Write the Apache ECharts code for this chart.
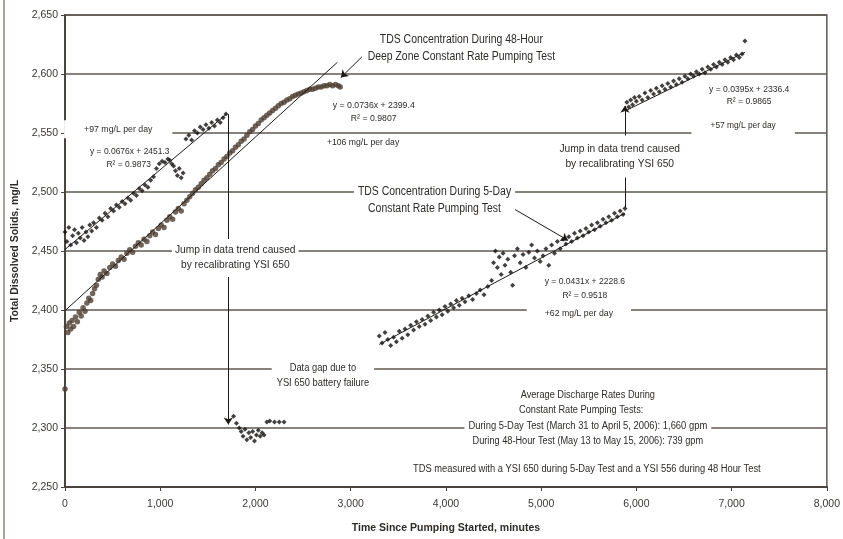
<!DOCTYPE html>
<html>
<head>
<meta charset="utf-8">
<script src="https://cdn.jsdelivr.net/npm/echarts@6/dist/echarts.min.js"></script>
<style>
  html, body { margin: 0; padding: 0; background: #fff; }
  #chart { width: 843px; height: 539px; }
</style>
</head>
<body>
<div id="chart"></div>
<script>
// ---- Readings: [minutes since pumping started, TDS mg/L] ----

// 5-day test (YSI 650), before the first recalibration
const fiveDayEarly = [
  [0,2466],[20,2458],[40,2470],[60,2455],[80,2463],[100,2468],[120,2457],[140,2465],[160,2461],[180,2470],
  [200,2459],[220,2466],[240,2462],[260,2472],[280,2467],[300,2474],[330,2470],[360,2478],[390,2476],[420,2482],
  [450,2479],[480,2486],[510,2484],[540,2489],[570,2487],[600,2492],[630,2490],[660,2495],[690,2493],[720,2499],
  [750,2497],[780,2503],[810,2501],[840,2506],[870,2504],[900,2510],[930,2513],[960,2520],[990,2524],[1020,2526],
  [1050,2525],[1080,2528],[1100,2527],[1120,2524],[1140,2522],[1160,2518],[1180,2514],[1200,2520],[1220,2512],[1240,2516],
  [1270,2545],[1300,2548],[1330,2544],[1360,2552],[1390,2550],[1420,2555],[1450,2553],[1480,2557],[1510,2554],[1540,2559],
  [1570,2556],[1600,2561],[1630,2559],[1660,2563],[1690,2566]
];

// 5-day test after recalibration, up to the battery failure
const fiveDayLow = [
  [1770,2310],[1800,2304],[1830,2300],[1850,2297],[1870,2293],[1890,2299],[1910,2290],[1930,2296],[1950,2292],[1970,2297],
  [1990,2289],[2010,2294],[2030,2298],[2050,2293],[2070,2296],[2090,2294],[2120,2305],[2150,2306],[2200,2305],[2250,2305],[2300,2305]
];

// 5-day test after the data gap
const fiveDayMid = [
  [3300,2378],[3330,2372],[3360,2381],[3390,2375],[3420,2370],[3450,2377],[3480,2373],[3510,2382],[3540,2376],[3570,2384],
  [3600,2379],[3630,2387],[3660,2383],[3690,2390],[3720,2386],[3750,2392],[3780,2388],[3810,2395],[3840,2391],[3870,2398],
  [3900,2394],[3930,2400],[3960,2396],[3990,2403],[4020,2399],[4050,2405],[4080,2402],[4110,2408],[4140,2404],[4170,2410],
  [4200,2407],[4240,2412],[4280,2409],[4320,2414],[4360,2417],[4400,2413],[4440,2420],[4480,2425],[4500,2440],[4520,2450],
  [4540,2436],[4560,2445],[4580,2430],[4600,2448],[4620,2438],[4650,2443],[4680,2432],[4700,2421],[4720,2446],[4750,2452],
  [4780,2440],[4810,2447],[4840,2436],[4870,2449],[4900,2455],[4930,2444],[4960,2450],[4990,2441],[5020,2446],[5050,2452],
  [5080,2438],[5110,2455],[5140,2448],[5170,2458],[5200,2452],[5230,2460],[5260,2456],[5290,2462],[5320,2458],[5350,2465],
  [5380,2461],[5410,2467],[5440,2463],[5470,2469],[5500,2466],[5530,2472],[5560,2468],[5590,2474],[5620,2471],[5650,2477],
  [5680,2474],[5710,2479],[5740,2476],[5770,2482],[5800,2479],[5830,2484],[5860,2481],[5880,2486]
];

// 5-day test after the second recalibration
const fiveDayLate = [
  [5900,2576],[5920,2572],[5940,2578],[5960,2574],[5980,2580],[6000,2577],[6030,2581],[6060,2578],[6090,2584],[6120,2580],
  [6150,2586],[6180,2583],[6210,2588],[6240,2585],[6270,2590],[6300,2587],[6330,2592],[6360,2589],[6390,2594],[6420,2591],
  [6450,2596],[6480,2593],[6510,2598],[6540,2596],[6570,2600],[6600,2598],[6630,2602],[6660,2600],[6690,2604],[6720,2601],
  [6750,2606],[6780,2604],[6810,2608],[6840,2606],[6870,2610],[6900,2608],[6930,2612],[6960,2610],[6990,2614],[7020,2612],
  [7050,2616],[7080,2614],[7110,2617],[7140,2628]
];

// 48-hour deep zone test (YSI 556)
const fortyEightHour = [
  [0,2333],[15,2386],[30,2381],[45,2389],[60,2384],[75,2391],[90,2386],[110,2394],[130,2390],[150,2398],
  [170,2395],[190,2402],[210,2399],[230,2406],[250,2410],[270,2408],[290,2414],[310,2418],[330,2421],[350,2426],
  [370,2430],[390,2428],[410,2433],[440,2431],[470,2436],[500,2439],[530,2437],[560,2442],[590,2445],[620,2443],
  [650,2448],[680,2451],[710,2449],[740,2454],[770,2457],[800,2455],[830,2460],[860,2458],[890,2463],[920,2466],
  [950,2464],[980,2469],[1010,2472],[1040,2470],[1070,2476],[1100,2479],[1130,2477],[1160,2483],[1190,2486],[1220,2484],
  [1250,2490],[1280,2493],[1310,2496],[1340,2499],[1370,2502],[1400,2504],[1430,2507],[1460,2510],[1490,2512],[1520,2515],
  [1550,2518],[1580,2520],[1610,2523],[1640,2525],[1670,2528],[1700,2530],[1730,2533],[1760,2535],[1790,2538],[1820,2540],
  [1850,2543],[1880,2545],[1910,2548],[1940,2551],[1970,2553],[2000,2556],[2030,2558],[2060,2561],[2090,2563],[2120,2565],
  [2150,2567],[2180,2569],[2210,2571],[2240,2573],[2270,2575],[2300,2576],[2330,2578],[2360,2579],[2390,2581],[2420,2582],
  [2450,2583],[2480,2584],[2510,2585],[2540,2586],[2570,2587],[2600,2587],[2630,2588],[2660,2589],[2690,2589],[2720,2590],
  [2750,2590],[2780,2591],[2810,2590],[2840,2591],[2870,2590],[2890,2589]
];

// Linear fits as printed on the chart: y = slope * x + intercept
const trendSlopes     = [0.0676, 0.0736, 0.0431, 0.0395];
const trendIntercepts = [2451.3, 2399.4, 2228.6, 2336.4];
const trendFrom       = [0,      0,      3300,   5900];
const trendTo         = [1700,   2860,   5880,   7140];

// Axis ticks
const xTicks = [0, 1000, 2000, 3000, 4000, 5000, 6000, 7000, 8000];
const yTicks = [2250, 2300, 2350, 2400, 2450, 2500, 2550, 2600, 2650];

// ---- Drawing ----
const SANS = '"Liberation Sans", Arial, sans-serif';
const INK = '#2e2b28';
const GRID = '#5f5850';
const fmt = v => Number(v).toLocaleString('en-US');

const chart = echarts.init(document.getElementById('chart'), null, { renderer: 'canvas' });

const trendSeries = trendSlopes.map((m, i) => ({
  type: 'line',
  data: [trendFrom[i], trendTo[i]].map(x => [x, +(m * x + trendIntercepts[i]).toFixed(2)]),
  symbol: 'none',
  lineStyle: { color: '#1c1a18', width: 1 },
  z: 4,
  silent: true
}));

const dots5 = (data) => ({
  type: 'scatter',
  data,
  symbol: 'diamond',
  symbolSize: 5,
  itemStyle: { color: '#141210' },
  z: 3,
  silent: true
});

const arrowLines = [
  // jump caused by recalibration (down)
  [{ coord: [1715, 2566] }, { coord: [1715, 2303] }],
  // jump caused by recalibration (up)
  [{ coord: [5880, 2487] }, { coord: [5880, 2573] }],
  // pointer to 48-hour test curve
  [{ coord: [3117, 2614.5] }, { coord: [2897, 2597] }],
  // pointer to 5-day test points
  [{ coord: [4686, 2487] }, { coord: [5282, 2459] }]
];

chart.setOption({
  animation: false,
  backgroundColor: '#ffffff',
  grid: {
    left: 65, right: 13, top: 15, bottom: 49,
    show: true, borderColor: GRID, borderWidth: 1.5
  },
  xAxis: {
    type: 'value', min: xTicks[0], max: xTicks[xTicks.length - 1], interval: 1000,
    name: 'Time Since Pumping Started, minutes',
    nameLocation: 'middle', nameGap: 36,
    nameTextStyle: { fontFamily: SANS, fontWeight: 'bold', fontSize: 10.5, color: INK },
    axisLine: { lineStyle: { color: '#4a443e', width: 2 } },
    axisTick: { show: true, length: 4, lineStyle: { color: '#4a443e' } },
    axisLabel: { formatter: fmt, fontFamily: SANS, fontSize: 10.5, color: '#3a3733', margin: 12 },
    splitLine: { show: false }
  },
  yAxis: {
    type: 'value', min: yTicks[0], max: yTicks[yTicks.length - 1], interval: 50,
    name: 'Total Dissolved Solids, mg/L',
    nameLocation: 'middle', nameGap: 43, nameRotate: 90,
    nameTextStyle: { fontFamily: SANS, fontWeight: 'bold', fontSize: 10.5, color: INK },
    axisLine: { show: true, lineStyle: { color: '#4a443e', width: 2 } },
    axisTick: { show: true, length: 4, lineStyle: { color: '#4a443e' } },
    axisLabel: { formatter: fmt, fontFamily: SANS, fontSize: 10.5, color: '#3a3733', margin: 7 },
    splitLine: { show: true, lineStyle: { color: GRID, width: 1.5 } }
  },
  series: [
    {
      type: 'scatter',
      data: fortyEightHour,
      symbol: 'circle',
      symbolSize: 5.5,
      itemStyle: { color: '#4e3d31' },
      z: 3,
      silent: true
    },
    Object.assign(dots5(fiveDayEarly), {
      markLine: {
        silent: true,
        symbol: ['none', 'arrow'],
        symbolSize: 7,
        label: { show: false },
        lineStyle: { color: '#1c1a18', width: 1, type: 'solid' },
        data: arrowLines
      }
    }),
    dots5(fiveDayLow),
    dots5(fiveDayMid),
    dots5(fiveDayLate),
    ...trendSeries
  ]
});

// Annotation text, anchored in data coordinates; sx condenses the type horizontally
const notes = [
  { at: [4162, 2622], text: 'TDS Concentration During 48-Hour\nDeep Zone Constant Rate Pumping Test', size: 12, lh: 17, sx: 0.87 },
  { at: [3242, 2567.5], text: 'y = 0.0736x + 2399.4\nR² = 0.9807', size: 9, lh: 13, sx: 0.97 },
  { at: [2750, 2542.2], text: '+106 mg/L per day', size: 9.5, align: 'left', sx: 0.91 },
  { at: [559, 2553.2], text: '+97 mg/L per day', size: 9.5, sx: 0.92, bg: true, pad: [3, 20, 3, 20] },
  { at: [680, 2534.6], text: 'y = 0.0676x + 2451.3', size: 9, sx: 0.94 },
  { at: [669, 2523.7], text: 'R² = 0.9873', size: 9, sx: 0.94 },
  { at: [7184, 2581.8], text: 'y = 0.0395x + 2336.4\nR² = 0.9865', size: 9, lh: 12, sx: 0.95 },
  { at: [7121, 2556.5], text: '+57 mg/L per day', size: 9.5, sx: 0.88, bg: true, pad: [3, 19, 4, 19] },
  { at: [1788, 2444.1], text: 'Jump in data trend caused\nby recalibrating YSI 650', size: 11, lh: 15, sx: 0.93, bg: true, pad: [4, 3, 4, 3] },
  { at: [5825, 2530], text: 'Jump in data trend caused\nby recalibrating YSI 650', size: 11, lh: 15, sx: 0.93, bg: true, pad: [6, 3, 6, 3] },
  { at: [3880, 2493], text: 'TDS Concentration During 5-Day\nConstant Rate Pumping Test', size: 12, lh: 17, sx: 0.87, bg: true, pad: [0, 4, 0, 4] },
  { at: [5459, 2418.4], text: 'y = 0.0431x + 2228.6\nR² = 0.9518', size: 9, lh: 14, sx: 0.95 },
  { at: [5396, 2397.4], text: '+62 mg/L per day', size: 9.5, sx: 0.92, bg: true, pad: [3, 18, 3, 18] },
  { at: [2708, 2344.7], text: 'Data gap due to\nYSI 650 battery failure', size: 10.5, lh: 15, sx: 0.89, bg: true, pad: [3, 5, 3, 5] },
  { at: [5490, 2327.5], text: 'Average Discharge Rates During', size: 10, sx: 0.92 },
  { at: [5420, 2314.8], text: 'Constant Rate Pumping Tests:', size: 10, sx: 0.92 },
  { at: [5490, 2301.4], text: 'During 5-Day Test (March 31 to April 5, 2006): 1,660 gpm', size: 10, sx: 0.94, bg: true, pad: [2, 4, 2, 4] },
  { at: [5490, 2288.7], text: 'During 48-Hour Test (May 13 to May 15, 2006): 739 gpm', size: 10, sx: 0.92 },
  { at: [5480, 2265.2], text: 'TDS measured with a YSI 650 during 5-Day Test and a YSI 556 during 48 Hour Test', size: 10, sx: 0.935 }
];

const graphics = notes.map(n => {
  const p = chart.convertToPixel({ gridIndex: 0 }, n.at);
  const sx = n.sx || 1;
  const style = {
    text: n.text,
    x: 0, y: 0,
    align: n.align || 'center',
    verticalAlign: 'middle',
    fill: INK,
    font: n.size + 'px ' + SANS,
    lineHeight: n.lh || Math.round(n.size * 1.3)
  };
  if (n.bg) {
    style.backgroundColor = '#ffffff';
    // horizontal padding is given in screen pixels, so undo the condensing
    style.padding = [n.pad[0], n.pad[1] / sx, n.pad[2], n.pad[3] / sx];
  }
  return { type: 'text', x: p[0], y: p[1], scaleX: sx, z: 100, silent: true, style };
});

// thin frame line along the left edge of the figure
graphics.push({
  type: 'line', z: 100, silent: true,
  shape: { x1: 4, y1: 0, x2: 4, y2: 539 },
  style: { stroke: '#8a8580', lineWidth: 1.5 }
});

chart.setOption({ graphic: graphics });
</script>
</body>
</html>
